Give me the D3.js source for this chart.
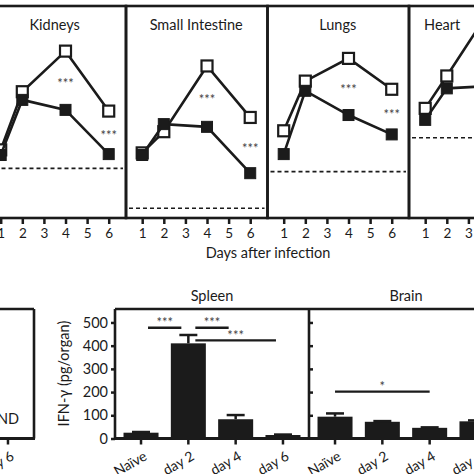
<!DOCTYPE html>
<html><head><meta charset="utf-8">
<script src="https://cdn.jsdelivr.net/npm/d3@7"></script>
<style>html,body{margin:0;padding:0;background:#fff;overflow:hidden}</style>
</head><body><svg id="c" width="474" height="474"></svg>
<script>
// ---------- data: top row (time course, arbitrary log units) ----------
const organs = ["Kidneys", "Small Intestine", "Lungs", "Heart"];
const days = [1, 2, 4, 6];
const dayTicks = [1, 2, 3, 4, 5, 6];
const openKidneys   = [2.25, 4.17, 5.51, 3.53];
const filledKidneys = [2.08, 3.90, 3.57, 2.11];
const openIntestine   = [2.15, 2.85, 5.02, 3.32];
const filledIntestine = [2.08, 3.10, 3.01, 1.48];
const openLungs   = [2.88, 4.52, 5.27, 4.25];
const filledLungs = [2.11, 4.20, 3.40, 2.76];
const openHeart   = [3.62, 4.69, 6.87, null];
const filledHeart = [3.24, 4.28, 4.36, null];
const detectionLimit = [1.64, 0.32, 1.53, 2.65];
const sigDays = [4, 6];
const sigLabel = "***";
const xTitle = "Days after infection";

// ---------- data: bottom row (IFN-gamma bars) ----------
const barCategories = ["Naïve", "day 2", "day 4", "day 6"];
const spleenValues = [25, 410, 83, 15];
const spleenErrors = [3, 36, 18, 2];
const brainValues = [94, 72, 46, 74];
const brainErrors = [14, 3, 2, 4];
const yTicksBar = [0, 100, 200, 300, 400, 500];
const yLabel = "IFN-γ (pg/organ)";
const spleenSig = [["Naïve", "day 2", 477, "***"], ["day 2", "day 4", 477, "***"], ["day 2", "day 6", 423, "***"]];
const brainSig = [["Naïve", "day 4", 202, "*"]];
const ndLabel = "ND";

// ---------- drawing ----------
const svg = d3.select("#c");
const ink = "#1b1b1b";
const starInk = "#444";
const FONT = "Lato, 'Open Sans', sans-serif";
svg.style("font-family", FONT);

const openSeries = [openKidneys, openIntestine, openLungs, openHeart];
const filledSeries = [filledKidneys, filledIntestine, filledLungs, filledHeart];

const topY = d3.scaleLinear().domain([0, 7]).range([218, 6]);
const panelW = 141.5, panel0 = -15.5;
const xDay = d3.scaleLinear().domain([0.25, 6.8]).range([0, panelW]);
const titleShift = [0, 0, 0, -37];
const mk = 11;

organs.forEach((name, i) => {
  const g = svg.append("g").attr("transform", `translate(${panel0 + i * panelW},0)`);
  const ax = g.append("g").attr("transform", `translate(0,${topY(0)})`)
    .call(d3.axisBottom(xDay).tickValues(dayTicks).tickSize(6).tickPadding(4).tickFormat(d3.format("d")));
  ax.select(".domain").remove();
  ax.selectAll(".tick line").attr("stroke", ink).attr("stroke-width", 2.5);
  ax.selectAll(".tick text").attr("fill", ink).style("font-size", "13.5px").style("font-family", FONT);
  g.append("rect").attr("x", 0).attr("y", topY(7)).attr("width", panelW).attr("height", topY(0) - topY(7))
    .attr("fill", "none").attr("stroke", ink).attr("stroke-width", 2.6);
  g.append("text").attr("x", xDay(3.5) + titleShift[i]).attr("y", 30).attr("text-anchor", "middle")
    .style("font-size", "14.5px").attr("fill", ink).text(name);
  g.append("line").attr("x1", 3).attr("x2", panelW - 3)
    .attr("y1", topY(detectionLimit[i])).attr("y2", topY(detectionLimit[i]))
    .attr("stroke", ink).attr("stroke-width", 1.6).attr("stroke-dasharray", "4,3");

  const line = d3.line().defined(d => d.v != null).x(d => xDay(d.day)).y(d => topY(d.v));
  const draw = (vals, open) => {
    const pts = days.map((d, k) => ({day: d, v: vals[k]}));
    g.append("path").datum(pts).attr("d", line).attr("fill", "none").attr("stroke", ink).attr("stroke-width", 2.6);
    g.selectAll(null).data(pts.filter(p => p.v != null)).join("rect")
      .attr("x", p => xDay(p.day) - mk / 2).attr("y", p => topY(p.v) - mk / 2)
      .attr("width", mk).attr("height", mk)
      .attr("fill", open ? "#fff" : ink).attr("stroke", ink).attr("stroke-width", open ? 2.2 : 1);
  };
  draw(openSeries[i], true);
  draw(filledSeries[i], false);

  sigDays.forEach(d => {
    const k = days.indexOf(d);
    const o = openSeries[i][k], f = filledSeries[i][k];
    if (o == null || f == null) return;
    g.append("text").attr("x", xDay(d)).attr("y", (topY(o) + topY(f)) / 2 + 7.5)
      .attr("text-anchor", "middle").style("font-size", "13px").attr("fill", starInk).text(sigLabel);
  });
});

svg.append("text").attr("x", 268).attr("y", 257.5).attr("text-anchor", "middle")
  .style("font-size", "14.5px").attr("fill", ink).text(xTitle);

// ---------- bottom row ----------
const yBar = d3.scaleLinear().domain([0, 558]).range([438.5, 309]);
const barW = 194;
const xBand = d3.scaleBand().domain(barCategories).range([0, barW]).paddingInner(0.26).paddingOuter(0.18);

function barPanel(left, title, values, errors, sig, inset, axisSide) {
  const g = svg.append("g").attr("transform", `translate(${left},0)`);
  const ax = g.append("g").attr("transform", `translate(0,${yBar(0)})`)
    .call(d3.axisBottom(xBand).tickSize(6).tickFormat(""));
  ax.select(".domain").remove();
  ax.selectAll(".tick line").attr("stroke", ink).attr("stroke-width", 2.5);
  barCategories.forEach(c => {
    const cx = xBand(c) + xBand.bandwidth() / 2;
    g.append("text").attr("transform", `translate(${cx + 7},459) rotate(-30)`)
      .attr("text-anchor", "end").style("font-size", "14px").attr("fill", ink).text(c);
  });
  if (values) {
    g.selectAll(null).data(values).join("rect")
      .attr("x", (v, k) => xBand(barCategories[k])).attr("width", xBand.bandwidth())
      .attr("y", v => yBar(v)).attr("height", v => yBar(0) - yBar(v)).attr("fill", ink);
    values.forEach((v, k) => {
      const cx = xBand(barCategories[k]) + xBand.bandwidth() / 2;
      const top = yBar(v + errors[k]);
      g.append("line").attr("x1", cx).attr("x2", cx).attr("y1", yBar(v)).attr("y2", top).attr("stroke", ink).attr("stroke-width", 2.5);
      g.append("line").attr("x1", cx - 9).attr("x2", cx + 9).attr("y1", top).attr("y2", top).attr("stroke", ink).attr("stroke-width", 2.5);
    });
  } else {
    barCategories.forEach(c => {
      g.append("text").attr("x", xBand(c) + xBand.bandwidth() / 2).attr("y", 423.5).attr("text-anchor", "middle")
        .style("font-size", "14.5px").attr("fill", ink).text(ndLabel);
    });
  }
  if (sig) sig.forEach(([a, b, lv, lab]) => {
    const x1 = xBand(a) + xBand.bandwidth() / 2 + inset, x2 = xBand(b) + xBand.bandwidth() / 2 - inset;
    g.append("line").attr("x1", x1).attr("x2", x2).attr("y1", yBar(lv)).attr("y2", yBar(lv)).attr("stroke", ink).attr("stroke-width", 2.4);
    g.append("text").attr("x", (x1 + x2) / 2).attr("y", yBar(lv) - 0.5).attr("text-anchor", "middle")
      .style("font-size", "13px").attr("fill", starInk).text(lab);
  });
  const top = yBar(558);
  g.append("line").attr("x1", 0).attr("x2", barW).attr("y1", top).attr("y2", top).attr("stroke", ink).attr("stroke-width", 2.6);
  g.append("line").attr("x1", -1).attr("x2", barW + 1).attr("y1", yBar(0)).attr("y2", yBar(0)).attr("stroke", ink).attr("stroke-width", 2.8);
  if (axisSide === "left") {
    const ya = g.append("g").call(d3.axisLeft(yBar).tickValues(yTicksBar).tickSize(4).tickPadding(3));
    ya.select(".domain").remove();
    ya.selectAll(".tick line").attr("stroke", ink).attr("stroke-width", 2.5);
    ya.selectAll(".tick text").attr("fill", ink).style("font-size", "14.5px").style("font-family", FONT);
    g.append("line").attr("x1", 0).attr("x2", 0).attr("y1", top).attr("y2", yBar(0)).attr("stroke", ink).attr("stroke-width", 2.6);
  } else if (axisSide === "inner") {
    const ya = g.append("g").call(d3.axisRight(yBar).tickValues(yTicksBar.slice(1)).tickSize(4).tickFormat(""));
    ya.select(".domain").remove();
    ya.selectAll(".tick line").attr("stroke", ink).attr("stroke-width", 2.5);
    g.append("line").attr("x1", 0).attr("x2", 0).attr("y1", top).attr("y2", yBar(0)).attr("stroke", ink).attr("stroke-width", 2.6);
  } else if (axisSide === "right") {
    g.append("line").attr("x1", barW).attr("x2", barW).attr("y1", top).attr("y2", yBar(0)).attr("stroke", ink).attr("stroke-width", 2.6);
  }
  if (title) g.append("text").attr("x", barW / 2).attr("y", 301).attr("text-anchor", "middle")
    .style("font-size", "14.5px").attr("fill", ink).text(title);
}

barPanel(-160, null, null, null, null, 0, "right");
barPanel(115, "Spleen", spleenValues, spleenErrors, spleenSig, 7, "left");
barPanel(309, "Brain", brainValues, brainErrors, brainSig, 0, "inner");

svg.append("text").attr("transform", "translate(69,373.5) rotate(-90)").attr("text-anchor", "middle")
  .style("font-size", "14.5px").attr("fill", ink).text(yLabel);
</script></body></html>
